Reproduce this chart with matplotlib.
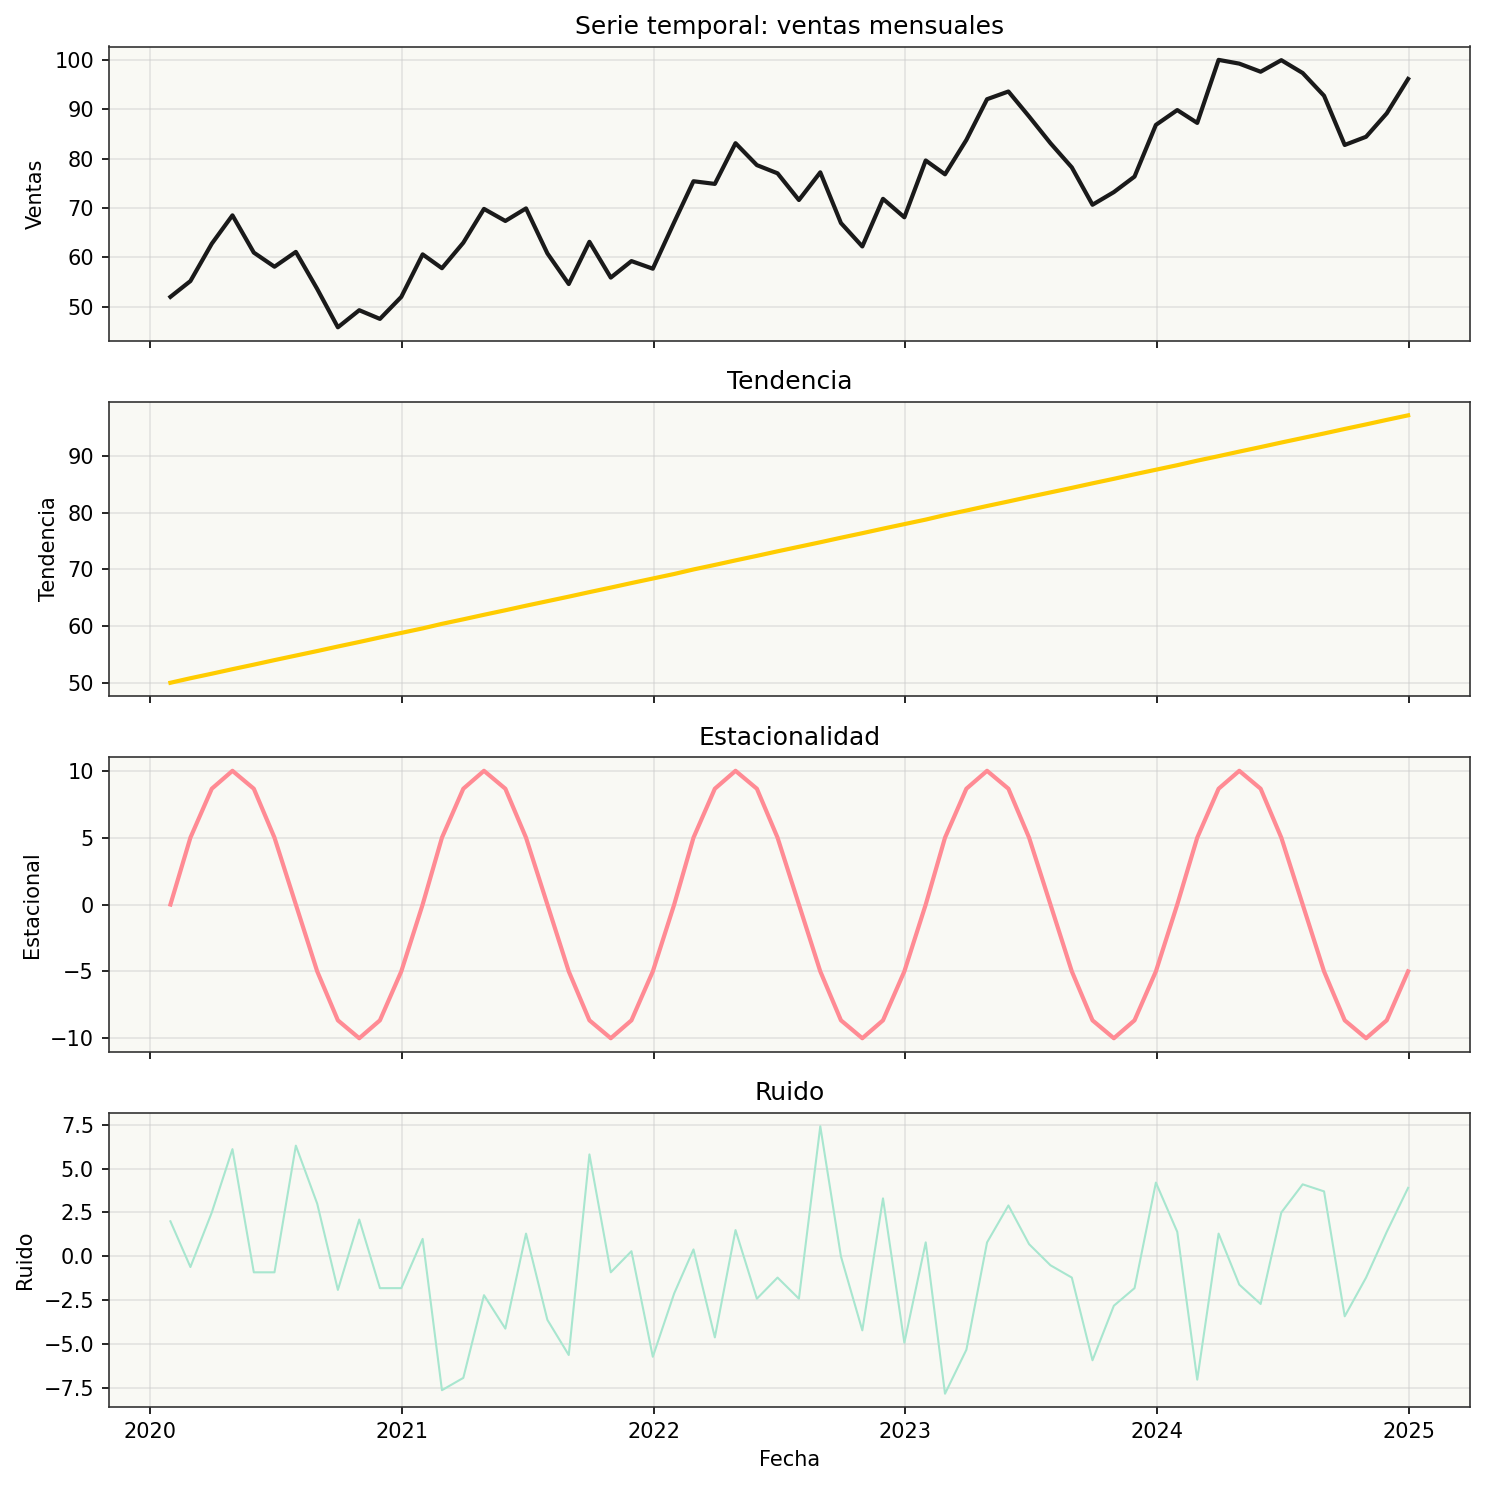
import numpy as np
import pandas as pd
import matplotlib
matplotlib.use("Agg")
import matplotlib.pyplot as plt
from matplotlib.ticker import MultipleLocator

# fechas mensuales (fin de mes)
fechas = pd.date_range("2020-01-31", periods=60, freq="ME")

tendencia = [50.0, 50.8, 51.6, 52.4, 53.2, 54.0, 54.8, 55.6, 56.4, 57.2, 58.0, 58.8,
             59.6, 60.4, 61.2, 62.0, 62.8, 63.6, 64.4, 65.2, 66.0, 66.8, 67.6, 68.4,
             69.2, 70.0, 70.8, 71.6, 72.4, 73.2, 74.0, 74.8, 75.6, 76.4, 77.2, 78.0,
             78.8, 79.6, 80.4, 81.2, 82.0, 82.8, 83.6, 84.4, 85.2, 86.0, 86.8, 87.6,
             88.4, 89.2, 90.0, 90.8, 91.6, 92.4, 93.2, 94.0, 94.8, 95.6, 96.4, 97.2]

estacional = [0, 5, 8.66, 10, 8.66, 5, 0, -5, -8.66, -10, -8.66, -5] * 5

ruido = [2.0, -0.6, 2.5, 6.1, -0.9, -0.9, 6.3, 3.0, -1.9, 2.1, -1.8, -1.8,
         1.0, -7.6, -6.9, -2.2, -4.1, 1.3, -3.6, -5.6, 5.8, -0.9, 0.3, -5.7,
         -2.1, 0.4, -4.6, 1.5, -2.4, -1.2, -2.4, 7.4, 0.0, -4.2, 3.3, -4.9,
         0.8, -7.8, -5.3, 0.8, 2.9, 0.7, -0.5, -1.2, -5.9, -2.8, -1.8, 4.2,
         1.4, -7.0, 1.3, -1.6, -2.7, 2.5, 4.1, 3.7, -3.4, -1.2, 1.4, 3.9]

ventas = [52.0, 55.2, 62.76, 68.5, 60.96, 58.1, 61.1, 53.6, 45.84, 49.3, 47.54, 52.0,
          60.6, 57.8, 62.96, 69.8, 67.36, 69.9, 60.8, 54.6, 63.14, 55.9, 59.24, 57.7,
          67.1, 75.4, 74.86, 83.1, 78.66, 77.0, 71.6, 77.2, 66.94, 62.2, 71.84, 68.1,
          79.6, 76.8, 83.76, 92.0, 93.56, 88.5, 83.1, 78.2, 70.64, 73.2, 76.34, 86.8,
          89.8, 87.2, 99.96, 99.2, 97.56, 99.9, 97.3, 92.7, 82.74, 84.4, 89.14, 96.1]

paneles = [
    (ventas, "Serie temporal: ventas mensuales", "Ventas", "#1a1a1a", 2.0),
    (tendencia, "Tendencia", "Tendencia", "#ffcc00", 2.0),
    (estacional, "Estacionalidad", "Estacional", "#ff8b94", 2.0),
    (ruido, "Ruido", "Ruido", "#a8e6cf", 1.0),
]

fig, axes = plt.subplots(4, 1, figsize=(10, 10), dpi=150, sharex=True)
for ax, (vals, titulo, etiqueta, color, lw) in zip(axes, paneles):
    ax.plot(fechas, vals, color=color, linewidth=lw)
    ax.set_facecolor("#f9f9f4")
    ax.set_title(titulo, fontsize=12)
    ax.set_ylabel(etiqueta)
    ax.grid(True, color="#cccccc", alpha=0.5, linewidth=0.8)
    for s in ax.spines.values():
        s.set_color("#333333")
axes[3].yaxis.set_major_locator(MultipleLocator(2.5))
axes[-1].set_xlabel("Fecha")

plt.tight_layout()
plt.savefig("out.png", bbox_inches="tight")
